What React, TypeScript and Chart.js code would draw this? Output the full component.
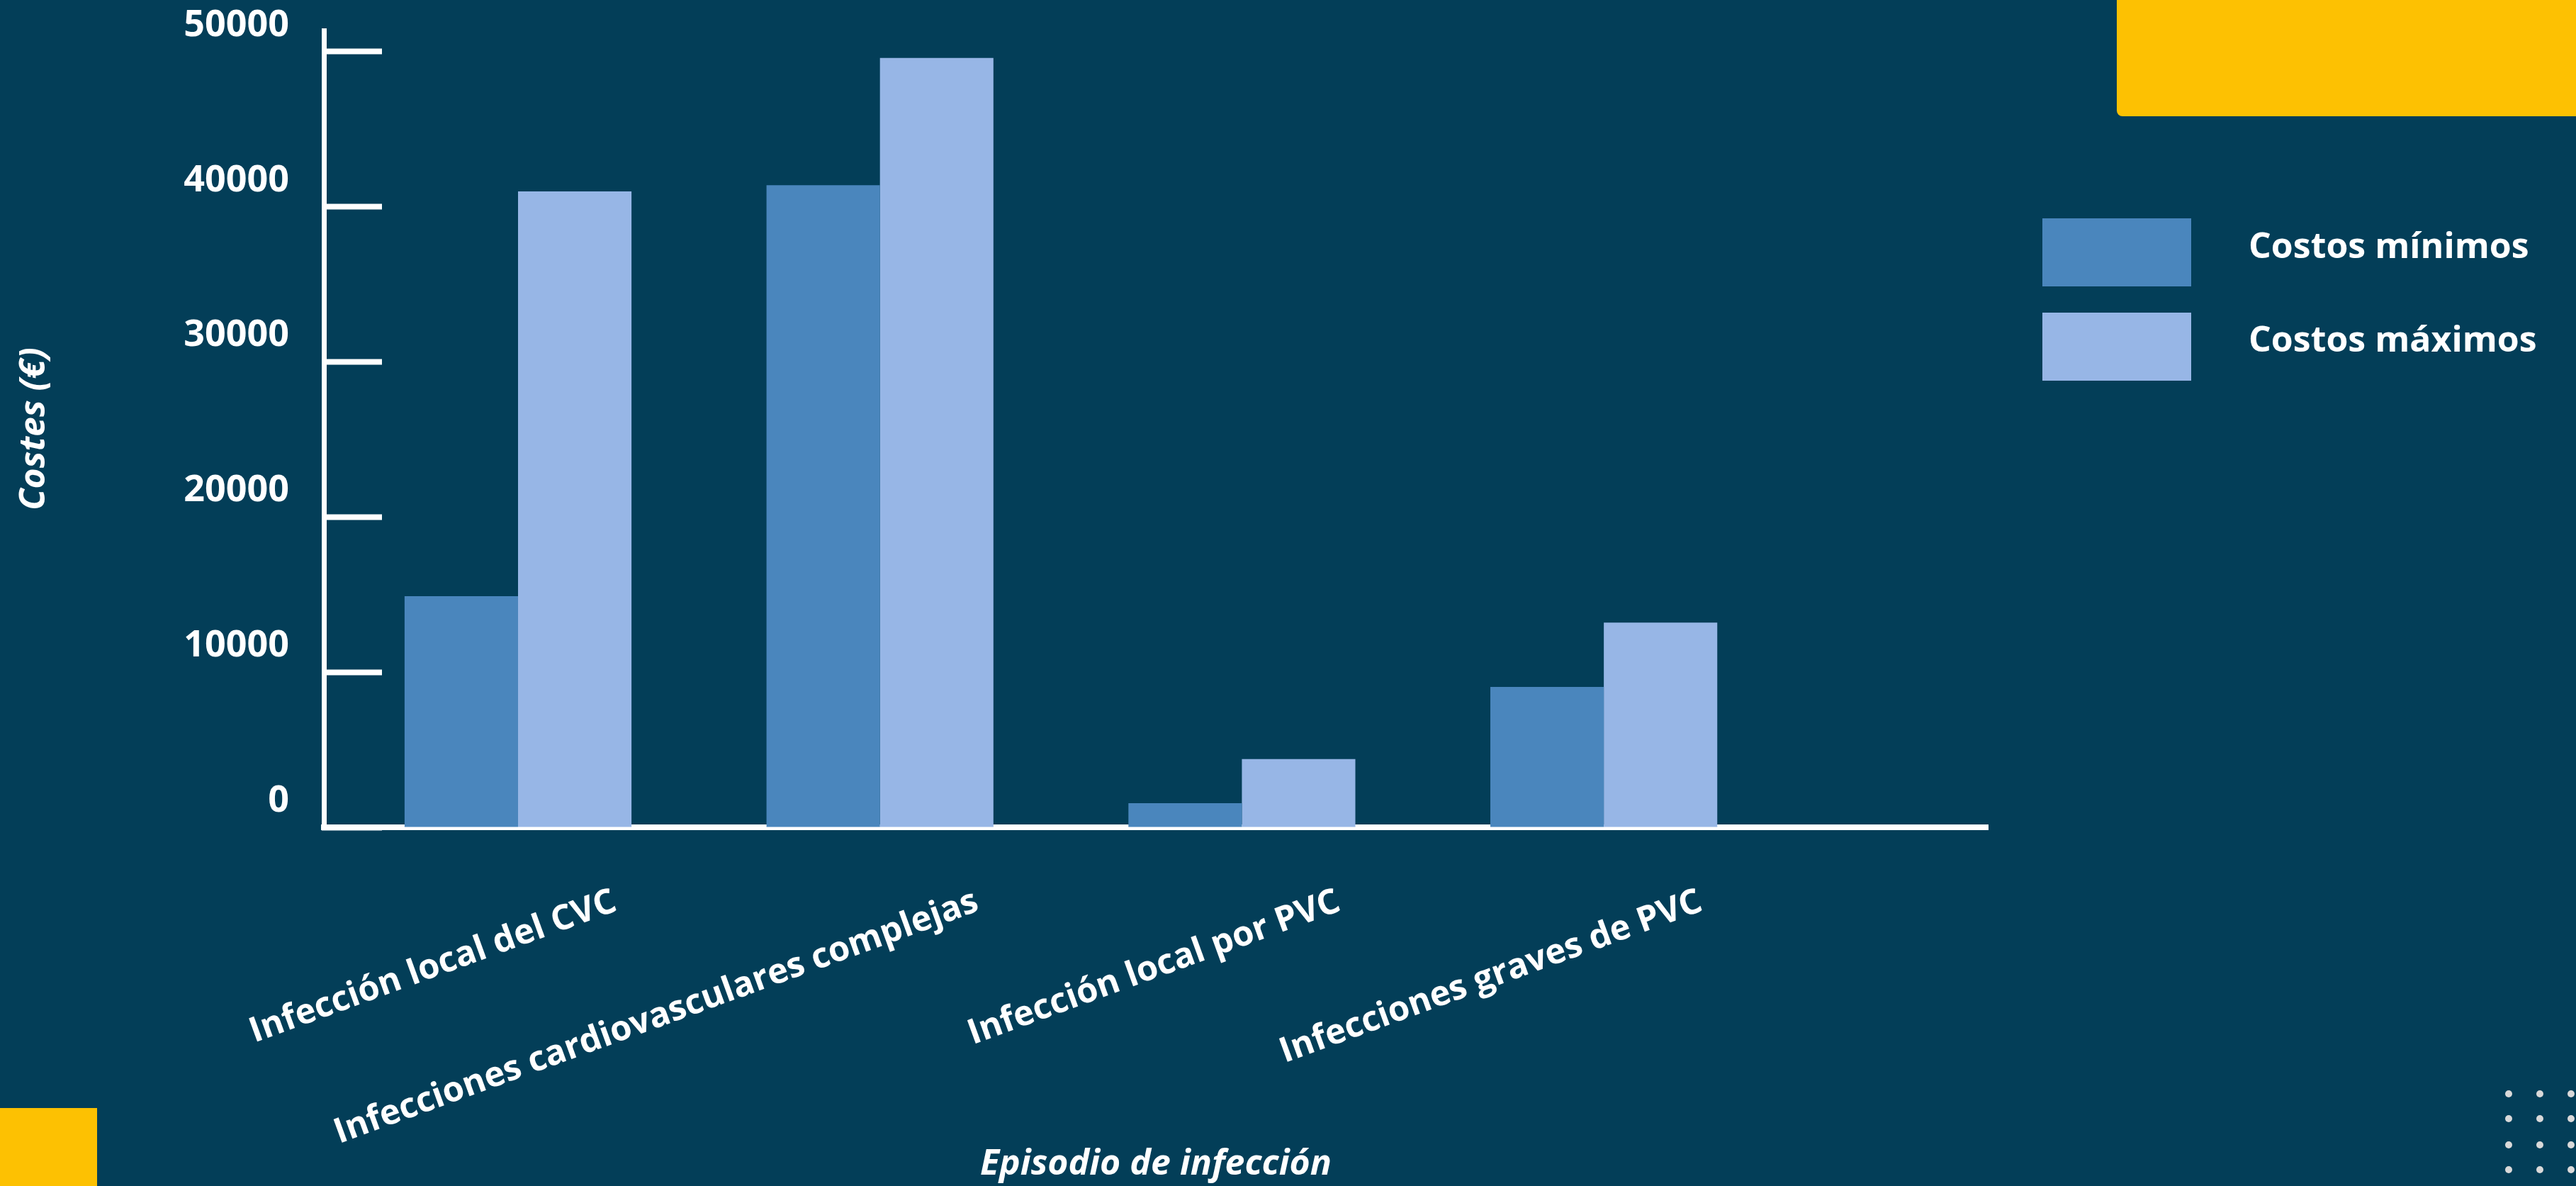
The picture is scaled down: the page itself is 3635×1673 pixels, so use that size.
import React, { useEffect, useRef } from 'react';
import { Chart, registerables } from 'chart.js';

Chart.register(...registerables);

// ---- data ----
const categories = [
  'Infección local del CVC',
  'Infecciones cardiovasculares complejas',
  'Infección local por PVC',
  'Infecciones graves de PVC',
];
const minCosts = [14900, 41400, 1550, 9050];
const maxCosts = [41000, 49600, 4400, 13200];
const yTickValues = [0, 10000, 20000, 30000, 40000, 50000];
const seriesNames = ['Costos mínimos', 'Costos máximos'];

// ---- styles ----
const BG = '#033e58';
const YELLOW = '#fdc102';
const seriesColors = ['#4a86bd', '#97b6e6'];
const FONT = "'Open Sans', 'Noto Sans', sans-serif";
const W = 3635;
const H = 1673;

export default function App() {
  const ref = useRef<HTMLCanvasElement>(null);

  useEffect(() => {
    document.body.style.margin = '0';
    document.body.style.background = BG;
    const canvas = ref.current;
    if (!canvas) return;
    const chart = new Chart(canvas, {
      type: 'bar',
      data: {
        datasets: seriesNames.map((name, s) => ({
          label: name,
          data: categories.map((_, i) => ({ x: i, y: (s === 0 ? minCosts : maxCosts)[i] })),
          backgroundColor: seriesColors[s],
          borderWidth: 0,
          categoryPercentage: 0.627,
          barPercentage: 1,
        })),
      },
      options: {
        responsive: false,
        animation: false,
        devicePixelRatio: 1,
        font: { family: FONT },
        layout: { padding: { top: 43, right: W - 2805, bottom: 0, left: 0 } },
        plugins: { legend: { display: false }, tooltip: { enabled: false } },
        scales: {
          x: {
            type: 'linear',
            offset: false,
            min: -0.5365,
            max: 4.061,
            afterBuildTicks: (s: any) => {
              s.ticks = categories.map((_, i) => ({ value: i }));
            },
            afterFit: (s: any) => {
              s.height = H - 1167;
              s.paddingLeft = 0;
              s.paddingRight = 0;
            },
            grid: { display: false, drawTicks: false, offset: false },
            border: { display: true, color: '#ffffff', width: 8 },
            ticks: {
              stepSize: 1,
              autoSkip: false,
              minRotation: 20,
              maxRotation: 20,
              padding: 76,
              labelOffset: 137,
              color: '#ffffff',
              font: { family: FONT, size: 49, weight: 'bold' },
              callback: (v: any) => categories[v as number] ?? '',
            },
            title: {
              display: true,
              text: 'Episodio de infección',
              color: '#ffffff',
              font: { family: FONT, size: 50, weight: 'bold', style: 'italic' },
              padding: { top: 0, bottom: 0 },
            },
          },
          y: {
            min: 0,
            max: 51370,
            afterBuildTicks: (s: any) => {
              s.ticks = yTickValues.map((v) => ({ value: v }));
            },
            afterFit: (s: any) => {
              s.width = 457;
              s.paddingTop = 0;
              s.paddingBottom = 0;
            },
            grid: {
              drawOnChartArea: false,
              drawTicks: true,
              tickLength: -82,
              tickWidth: 8,
              tickColor: '#ffffff',
              color: 'rgba(0,0,0,0)',
            },
            border: { color: '#ffffff', width: 7 },
            ticks: {
              padding: 131,
              labelOffset: -37,
              color: '#ffffff',
              font: { family: FONT, size: 52, weight: 'bold' },
              callback: (v: any) => String(v),
            },
            title: {
              display: true,
              text: 'Costes (€)',
              color: '#ffffff',
              font: { family: FONT, size: 50, weight: 'bold', style: 'italic' },
              padding: { top: 19, bottom: 0 },
            },
          },
        },
      } as any,
    });
    return () => chart.destroy();
  }, []);

  const dotCols = [3540, 3584, 3628];
  const dotRows = [1543, 1578, 1615, 1650];

  return (
    <div style={{ position: 'relative', width: W, height: H, background: BG, overflow: 'hidden', fontFamily: FONT }}>
      <div style={{ position: 'absolute', left: 2987, top: 0, width: W - 2987, height: 164, background: YELLOW, borderBottomLeftRadius: 8 }} />
      <div style={{ position: 'absolute', left: 0, top: 1563, width: 137, height: H - 1563, background: YELLOW }} />
      {dotRows.map((y) =>
        dotCols.map((x) => (
          <div key={`${x}-${y}`} style={{ position: 'absolute', left: x - 5, top: y - 5, width: 10, height: 10, borderRadius: 5, background: '#d9d9d9' }} />
        ))
      )}
      <canvas ref={ref} width={W} height={H} style={{ position: 'absolute', left: 0, top: 0, width: W, height: H }} />
      {seriesNames.map((name, i) => (
        <React.Fragment key={name}>
          <div style={{ position: 'absolute', left: 2882, top: i === 0 ? 308 : 441, width: 210, height: 96, background: seriesColors[i] }} />
          <div style={{ position: 'absolute', left: 3173, top: i === 0 ? 320 : 452, color: '#ffffff', fontWeight: 700, fontSize: 50, lineHeight: '50px', whiteSpace: 'nowrap' }}>{name}</div>
        </React.Fragment>
      ))}
    </div>
  );
}
